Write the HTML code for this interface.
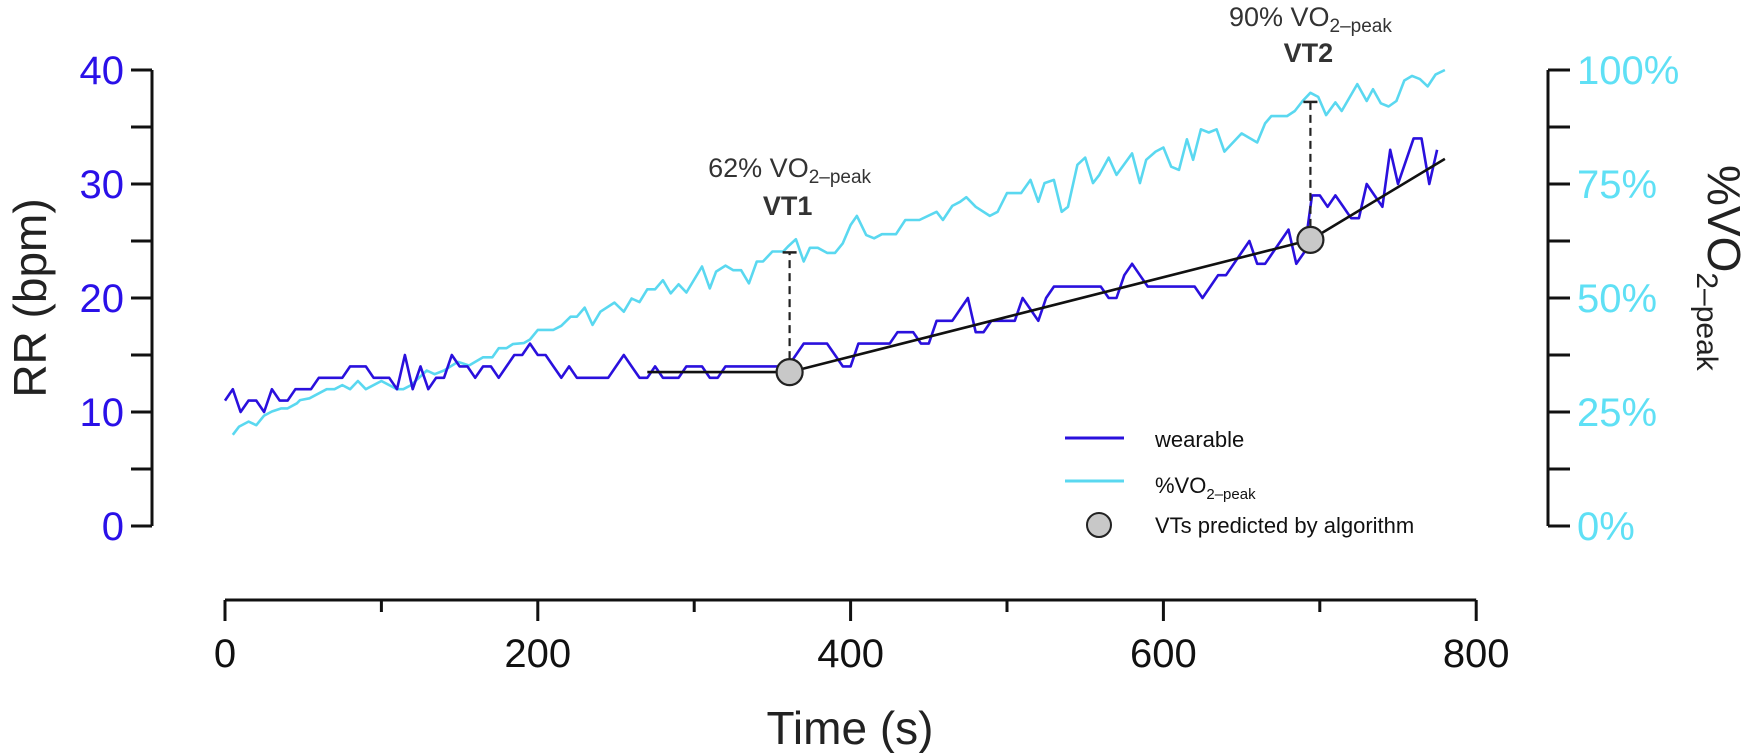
<!DOCTYPE html>
<html><head><meta charset="utf-8"><style>
html,body{margin:0;padding:0;background:#fff;}
svg{display:block;font-family:"Liberation Sans",Arial,sans-serif;}
</style></head><body>
<svg id="chart" width="1750" height="753" viewBox="0 0 1750 753" xmlns="http://www.w3.org/2000/svg">
<g id="axes"></g>
<g id="series"></g>
<g id="annot"></g>
<g id="legend">
  <line x1="1065" y1="438" x2="1124" y2="438" stroke="#2a10dd" stroke-width="3"/>
  <text x="1155" y="447" font-size="22" fill="#111">wearable</text>
  <line x1="1065" y1="481" x2="1124" y2="481" stroke="#5ad8f0" stroke-width="3"/>
  <text x="1155" y="493" font-size="22" fill="#111">%VO<tspan font-size="15" dy="6">2–peak</tspan></text>
  <circle cx="1099" cy="525" r="12" fill="#c8c8c8" stroke="#222" stroke-width="2"/>
  <text x="1155" y="533" font-size="22" fill="#111">VTs predicted by algorithm</text>
</g>
</svg>
<script>
// wearable RR (bpm), one sample every 5 s starting at t=0
const rrValues = [11,12,10,11,11,10,12,11,11,12,12,12,13,13,13,13,14,14,14,13,13,13,12,15,12,14,12,13,13,15,14,14,13,14,14,13,14,15,15,16,
15,15,14,13,14,13,13,13,13,13,14,15,14,13,13,14,13,13,13,14,14,14,13,13,14,14,14,14,14,14,14,14,14,15,16,16,16,16,15,14,
14,16,16,16,16,16,17,17,17,16,16,18,18,18,19,20,17,17,18,18,18,18,20,19,18,20,21,21,21,21,21,21,21,20,20,22,23,22,21,21,
21,21,21,21,21,20,21,22,22,23,24,25,23,23,24,25,26,23,24,29,29,28,29,28,27,27,30,29,28,33,30,32,34,34,30,33];
const rrStep = 5;
// %VO2-peak series (time s, percent)
const vo2Times = [5,9,15,20,25,30,36,40,46,48,54,65,70,75,80,85,90,100,110,114,119,129,134,140,149,156,165,171,175,180,184,191,195,200,210,215,221,225,230,235,240,249,255,260,265,270,275,280,285,290,295,305,310,314,320,325,330,335,340,344,350,357,360,365,370,374,379,385,390,395,400,404,410,415,420,429,435,444,455,459,465,470,474,480,489,494,500,509,515,520,524,530,535,539,545,550,555,559,565,570,580,585,589,595,600,605,610,615,619,624,629,634,639,650,660,665,669,679,684,689,694,699,704,710,714,724,730,734,739,744,749,754,759,764,769,774,780];
const vo2Values = [20,21.8,22.9,22.1,24.2,25.1,25.8,25.8,26.9,27.6,28,30,30,30.9,30,31.8,30,31.8,30,30,30.9,34.1,33.3,34.1,36,35.2,37,37,39,39,39.9,40.1,40.9,43,43,43.9,45.9,45.9,47.9,44.1,47,49,47,49.9,49.1,51.9,51.9,53.9,51,53,51.2,56.9,52.1,55.8,57.1,56.1,56.1,53.2,58,58,60.2,60.2,61.3,62.9,58,61,61,59.9,59.9,62,66,68,63.8,63.1,64,64,67.1,67.1,68.9,67.1,70.2,71.1,72.1,70,68,68.9,73,73,75.9,71.1,75.2,75.9,68.9,70,79.2,80.8,75.2,77,80.8,77,81.7,75.2,80.3,82.1,83,78.8,78.1,84.8,80.3,87,86.3,87,82.1,86.1,84.1,88.3,89.9,89.9,91,93.2,95,94.1,90.1,92.9,91,96.9,93.2,95.8,92.7,92,93.2,97.7,98.7,98,96.4,99,100];
// algorithm fit breakpoints (time s, bpm)
const fitTimes = [270,361,694,780];
const fitValues = [13.5,13.5,25.1,32.2];
// predicted thresholds
const vtTimes = [361,694];
const vtRR = [13.5,25.1];
const vtPct = [60,93];
const vtNames = ['VT1','VT2'];
const vtLabels = ['62%','90%'];
const xTicks = [0,100,200,300,400,500,600,700,800];
const xTickLabels = ['0','200','400','600','800'];
const yLTicks = [0,5,10,15,20,25,30,35,40];
const yLLabels = [0,10,20,30,40];
const yRTicks = [0,12.5,25,37.5,50,62.5,75,87.5,100];
const yRLabels = [0,25,50,75,100];

const NS='http://www.w3.org/2000/svg';
const X0=225, XS=1.564, YB=526, LS=11.4, RS=4.56;
function xs(t){return X0+t*XS;}
function yl(v){return YB-v*LS;}
function yr(p){return YB-p*RS;}
function mk(tag,parent,attrs){const e=document.createElementNS(NS,tag);for(const k in attrs)e.setAttribute(k,attrs[k]);parent.appendChild(e);return e;}
const axes=document.getElementById('axes'), series=document.getElementById('series'), annot=document.getElementById('annot');
const BLUE='#2a10dd', CYAN='#5ad8f0', LBLUE='#2a10e8', LCYAN='#5fe0f5';

// left axis
let e=mk('line',axes,{x1:152,y1:yl(40),x2:152,y2:yl(0),stroke:'#111','stroke-width':3});


yLTicks.forEach(v=>{const t=mk('line',axes,{x1:131,y1:yl(v),x2:152,y2:yl(v),stroke:'#111','stroke-width':3});

});
yLLabels.forEach(v=>{const t=mk('text',axes,{x:124,y:yl(v)+14,'text-anchor':'end','font-size':40,fill:LBLUE});t.textContent=v;

});
e=mk('text',axes,{transform:'translate(46,298) rotate(-90)','text-anchor':'middle','font-size':46,fill:'#222'});e.textContent='RR (bpm)';



// right axis
e=mk('line',axes,{x1:1548,y1:yr(100),x2:1548,y2:yr(0),stroke:'#111','stroke-width':3});


yRTicks.forEach(v=>{const t=mk('line',axes,{x1:1548,y1:yr(v),x2:1570,y2:yr(v),stroke:'#111','stroke-width':3});

});
yRLabels.forEach(v=>{const t=mk('text',axes,{x:1577,y:yr(v)+14,'font-size':40,fill:LCYAN});t.textContent=v+'%';

});
e=mk('text',axes,{transform:'translate(1708,165) rotate(90)','font-size':46,fill:'#222'});
e.innerHTML='%VO<tspan font-size="30" dy="11">2–peak</tspan>';



// x axis
e=mk('line',axes,{x1:xs(0),y1:600,x2:xs(800),y2:600,stroke:'#111','stroke-width':3});


xTicks.forEach(v=>{const t=mk('line',axes,{x1:xs(v),y1:600,x2:xs(v),y2:(v%200===0?621:612),stroke:'#111','stroke-width':3});

});
xTickLabels.forEach(s=>{const t=mk('text',axes,{x:xs(+s),y:667,'text-anchor':'middle','font-size':40,fill:'#111'});t.textContent=s;

});
e=mk('text',axes,{x:850,y:744,'text-anchor':'middle','font-size':46,fill:'#222'});e.textContent='Time (s)';



// series
let d=vo2Times.map((t,i)=>(i?'L':'M')+xs(t).toFixed(1)+','+yr(vo2Values[i]).toFixed(1)).join('');
e=mk('path',series,{d:d,fill:'none',stroke:CYAN,'stroke-width':2.6,'stroke-linejoin':'round'});


d=rrValues.map((v,i)=>(i?'L':'M')+xs(i*rrStep).toFixed(1)+','+yl(v).toFixed(1)).join('');
e=mk('path',series,{d:d,fill:'none',stroke:BLUE,'stroke-width':2.6,'stroke-linejoin':'round'});


d=fitTimes.map((t,i)=>(i?'L':'M')+xs(t).toFixed(1)+','+yl(fitValues[i]).toFixed(1)).join('');
e=mk('path',series,{d:d,fill:'none',stroke:'#111','stroke-width':2.6});



// thresholds
vtTimes.forEach((t,i)=>{
  const x=xs(t), yc=yl(vtRR[i]), yt=yr(vtPct[i]);
  let l=mk('line',annot,{x1:x,y1:yc-13,x2:x,y2:yt,stroke:'#222','stroke-width':2.2,'stroke-dasharray':'8,5'});
  
  
  l=mk('line',annot,{x1:x-7,y1:yt,x2:x+7,y2:yt,stroke:'#222','stroke-width':2.5});
  
  
  const c=mk('circle',annot,{cx:x,cy:yc,r:13,fill:'#c8c8c8',stroke:'#222','stroke-width':2.2});
  
  
  const ty = i===0?177:26;
  const t1=mk('text',annot,{x:x,y:ty,'text-anchor':'middle','font-size':27,fill:'#333'});
  t1.innerHTML=vtLabels[i]+' VO<tspan font-size="19" dy="6">2–peak</tspan>';
  
  
  const t2=mk('text',annot,{x:x-2,y:ty+(i===0?38:36),'text-anchor':'middle','font-size':27,'font-weight':'bold',fill:'#333'});
  t2.textContent=vtNames[i];
  
  
});
</script>
</body></html>
